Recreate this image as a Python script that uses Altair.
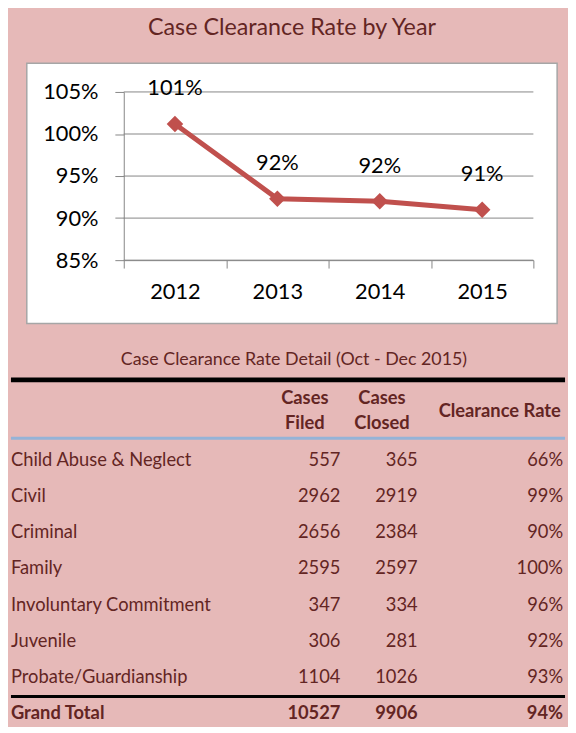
import altair as alt
import pandas as pd

# ---- data: chart ----
years = ["2012", "2013", "2014", "2015"]
rates = [1.012, 0.923, 0.920, 0.910]
y_ticks = [0.85, 0.90, 0.95, 1.00, 1.05]

# ---- data: table ----
categories = [
    "Child Abuse & Neglect", "Civil", "Criminal", "Family",
    "Involuntary Commitment", "Juvenile", "Probate/Guardianship", "Grand Total",
]
filed = [557, 2962, 2656, 2595, 347, 306, 1104, 10527]
closed = [365, 2919, 2384, 2597, 334, 281, 1026, 9906]
clearance = [0.66, 0.99, 0.90, 1.00, 0.96, 0.92, 0.93, 0.94]
is_total = [False, False, False, False, False, False, False, True]

title_text = "Case Clearance Rate by Year"
subtitle_text = "Case Clearance Rate Detail (Oct - Dec 2015)"
header_texts = ["Cases", "Filed", "Cases", "Closed", "Clearance Rate"]

# ---- style ----
PINK = "#E6B9B8"
MAROON = "#632523"
RED = "#C0504D"
GRID = "#868686"
BLUE = "#95B3D7"
FONT = "Lato"

W, H = 414, 170

line_df = pd.DataFrame({"year": years, "rate": rates})
tick_df = pd.DataFrame({"tick": y_ticks})
one_df = pd.DataFrame({"k": [0]})

y_scale = alt.Scale(domain=[0.85, 1.05], nice=False, zero=False)
y_axis = alt.Axis(values=y_ticks, format=".0%", grid=False, tickSize=9, tickColor=GRID,
                  domainColor=GRID, labelFontSize=22, labelColor="black", labelPadding=17,
                  labelFont=FONT, zindex=1)
x_enc = alt.X("year:N", sort=years, title=None, bandPosition=0.5,
              scale=alt.Scale(type="band", paddingInner=0, paddingOuter=0),
              axis=alt.Axis(tickBand="extent", tickSize=8, tickColor=GRID, domainColor=GRID,
                            labelFontSize=22, labelColor="black", labelPadding=14,
                            labelAngle=0, labelFont=FONT, zindex=1))
y_enc = alt.Y("rate:Q", title=None, scale=y_scale, axis=y_axis)

panel = alt.Chart(one_df).mark_rect(fill="white", stroke="#A6A6A6", strokeWidth=1.5).encode(
    x=alt.value(-98), x2=alt.value(438), y=alt.value(-29), y2=alt.value(234))

grid = alt.Chart(tick_df).mark_rule(color=GRID, strokeWidth=1).encode(
    y=alt.Y("tick:Q", title=None, scale=y_scale, axis=y_axis))

line = alt.Chart(line_df).mark_line(color=RED, strokeWidth=5).encode(x=x_enc, y=y_enc)
points = alt.Chart(line_df).mark_point(shape="diamond", filled=True, size=280, color=RED,
                                       opacity=1).encode(x=x_enc, y=y_enc)
labels = alt.Chart(line_df).mark_text(fontSize=22, color="black", dy=-36, font=FONT).encode(
    x=x_enc, y=y_enc, text=alt.Text("rate:Q", format=".0%"))

top = alt.layer(panel, grid, line, points, labels).properties(
    width=W, height=H,
    title=alt.TitleParams(text=title_text, fontSize=23.5, font=FONT, fontWeight="normal",
                          color=MAROON, offset=23, anchor="middle", frame="bounds"))

# ---- table ----
TW, TH = 446, 394
FS = 18.5
table_df = pd.DataFrame({"cat": categories, "filed": filed, "closed": closed,
                         "rate": clearance, "total": is_total})
row_y = alt.Y("cat:N", sort=categories, title=None, axis=None,
              scale=alt.Scale(type="point", range=[137, 393], padding=0))


def column(text_enc, x, align, bold):
    flt = "datum.total" if bold else "!datum.total"
    return alt.Chart(table_df).transform_filter(flt).mark_text(
        fontSize=FS, color=MAROON, align=align, baseline="middle", font=FONT,
        fontWeight="bold" if bold else "normal").encode(
        x=alt.value(x), y=row_y, text=text_enc)


table_layers = []
table_layers.append(alt.Chart(pd.DataFrame({"t": [subtitle_text]})).mark_text(
    fontSize=18, color=MAROON, align="center", baseline="middle", font=FONT).encode(
    text="t:N", x=alt.value(172), y=alt.value(36)))
table_layers.append(alt.Chart(one_df).mark_rule(color="black", strokeWidth=5).encode(
    x=alt.value(-114), x2=alt.value(446), y=alt.value(56)))
header_pos = [(183, 74), (183, 100), (261, 74), (261, 100), (380, 88)]
for t, (hx, hy) in zip(header_texts, header_pos):
    table_layers.append(alt.Chart(pd.DataFrame({"t": [t]})).mark_text(
        fontSize=FS, color=MAROON, align="center", baseline="middle", font=FONT,
        fontWeight="bold").encode(text="t:N", x=alt.value(hx), y=alt.value(hy)))
table_layers.append(alt.Chart(one_df).mark_rule(color=BLUE, strokeWidth=3).encode(
    x=alt.value(-114), x2=alt.value(446), y=alt.value(115)))
table_layers.append(alt.Chart(one_df).mark_rule(color="black", strokeWidth=3).encode(
    x=alt.value(-114), x2=alt.value(446), y=alt.value(376)))
for bold in (False, True):
    table_layers.append(column(alt.Text("cat:N"), -114, "left", bold))
    table_layers.append(column(alt.Text("filed:Q", format="d"), 219, "right", bold))
    table_layers.append(column(alt.Text("closed:Q", format="d"), 297, "right", bold))
    table_layers.append(column(alt.Text("rate:Q", format=".0%"), 444, "right", bold))

table = alt.layer(*table_layers).properties(width=TW, height=TH)

chart = alt.vconcat(top, table, spacing=0).properties(
    background=PINK, padding={"left": 0, "top": 4, "right": 0, "bottom": 0}
).configure(font=FONT).configure_view(strokeWidth=0)

chart.save("out.html", embed_options={"renderer": "svg", "actions": False})
